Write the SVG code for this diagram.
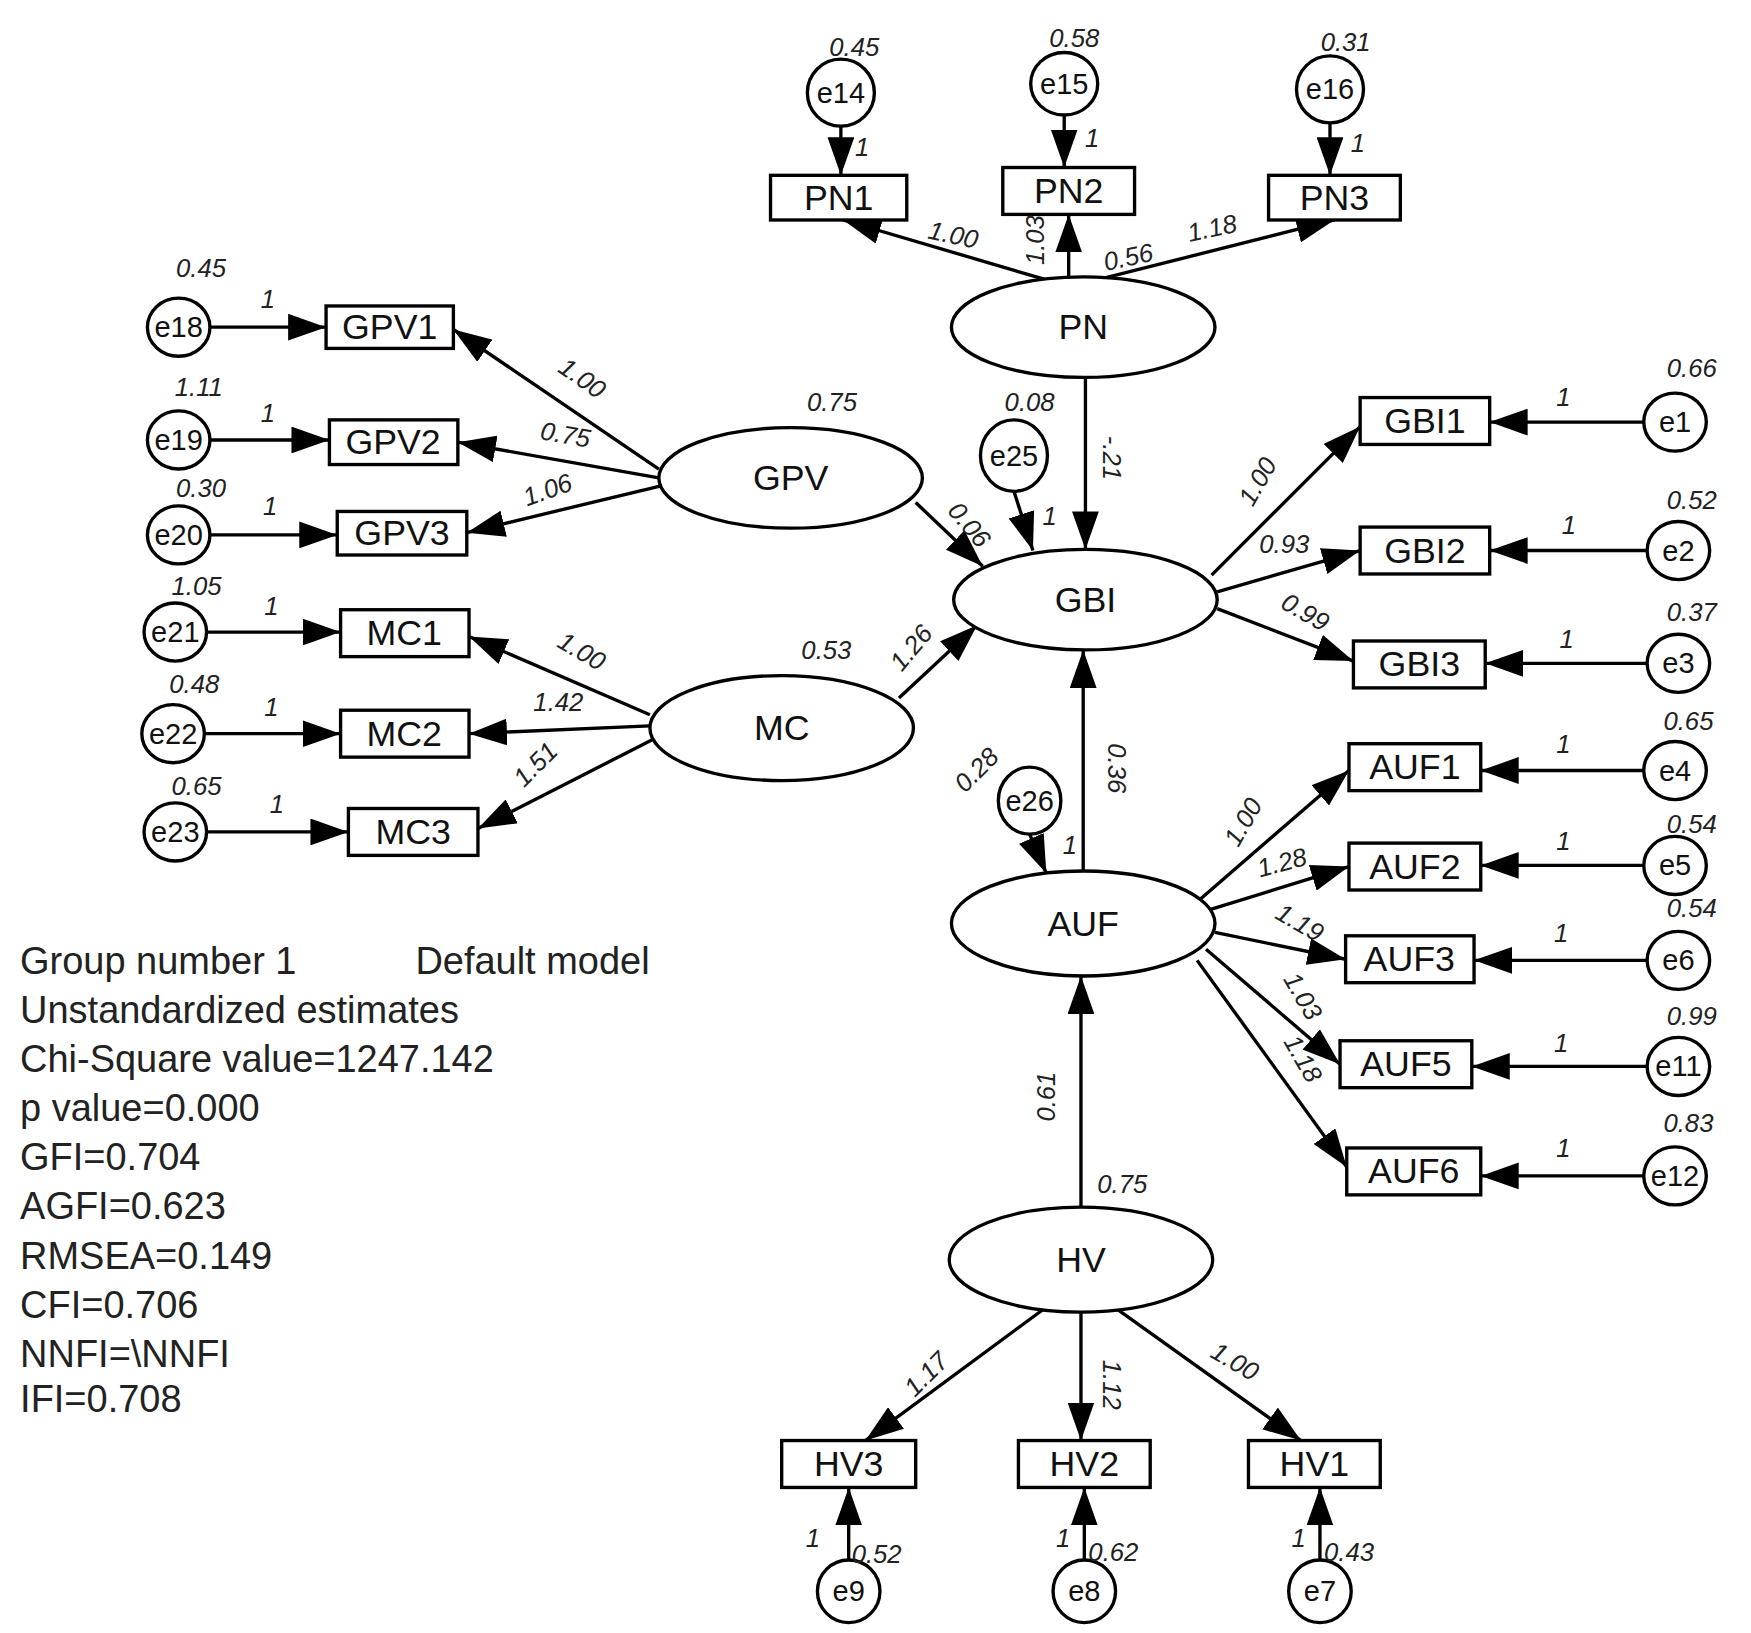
<svg xmlns="http://www.w3.org/2000/svg" width="1751" height="1633" viewBox="0 0 1751 1633">
<style>
.n{fill:#fff;stroke:#000;stroke-width:3}
.t{font-family:"Liberation Sans",Arial,sans-serif;font-size:32px;text-anchor:middle;dominant-baseline:central;fill:#111}
.e{font-family:"Liberation Sans",Arial,sans-serif;font-size:26px;text-anchor:middle;dominant-baseline:central;fill:#111}
.l{font-family:"Liberation Sans",Arial,sans-serif;font-size:23px;font-style:italic;text-anchor:middle;fill:#222}
.c path{stroke:#000;stroke-width:3;fill:none;marker-end:url(#a)}
.s{font-family:"Liberation Sans",Arial,sans-serif;font-size:34px;fill:#222}
</style>
<defs><marker id="a" markerUnits="userSpaceOnUse" markerWidth="36" markerHeight="24" refX="34" refY="12" orient="auto"><path d="M0,0 L34,12 L0,24 Z" fill="#000"/></marker></defs>
<rect width="1751" height="1633" fill="#fff"/>
<g transform="scale(1.1167)">
<g class="c" id="connectors">
<path d="M753,113V157"/><path d="M953,103V150"/><path d="M1191,110V157"/>
<path d="M935,250L755,197"/><path d="M957,248V192"/><path d="M985,250L1195,197"/>
<path d="M972,338V492"/><path d="M908,440L925,493"/>
<path d="M590,420L406,295"/><path d="M590,428L410,396"/><path d="M592,435L418,477"/>
<path d="M820,450L880,507"/>
<path d="M188,293H292"/><path d="M188,394H295"/><path d="M188,479H302"/><path d="M185,566H305"/><path d="M183,657H305"/><path d="M185,745H312"/>
<path d="M582,640L420,570"/><path d="M582,650L420,657"/><path d="M585,662L428,742"/>
<path d="M805,625L875,560"/>
<path d="M1085,515L1218,382"/><path d="M1090,530L1218,493"/><path d="M1090,545L1212,592"/>
<path d="M1472,378H1334"/><path d="M1475,493H1334"/><path d="M1475,594H1330"/>
<path d="M1472,690H1326"/><path d="M1472,775H1326"/><path d="M1475,860H1320"/><path d="M1475,955H1318"/><path d="M1472,1053H1326"/>
<path d="M970,780V582"/><path d="M922,747L937,782"/>
<path d="M1075,805L1208,690"/><path d="M1082,815L1208,776"/><path d="M1088,835L1205,859"/><path d="M1080,850L1200,953"/><path d="M1072,860L1206,1045"/>
<path d="M968,1081V874"/>
<path d="M935,1172L775,1290"/><path d="M968,1175V1290"/><path d="M1000,1172L1165,1290"/>
<path d="M760,1397V1332"/><path d="M971,1397V1332"/><path d="M1182,1397V1332"/>
</g>
<g id="PN"><ellipse class="n" cx="970" cy="293" rx="118" ry="45"/><text class="t" x="970" y="293">PN</text></g>
<g id="GPV"><ellipse class="n" cx="708" cy="428" rx="118" ry="45"/><text class="t" x="708" y="428">GPV</text></g>
<g id="GBI"><ellipse class="n" cx="972" cy="537" rx="118" ry="45"/><text class="t" x="972" y="537">GBI</text></g>
<g id="MC"><ellipse class="n" cx="700" cy="652" rx="118" ry="47"/><text class="t" x="700" y="652">MC</text></g>
<g id="AUF"><ellipse class="n" cx="970" cy="827" rx="118" ry="47"/><text class="t" x="970" y="827">AUF</text></g>
<g id="HV"><ellipse class="n" cx="968" cy="1128" rx="118" ry="47"/><text class="t" x="968" y="1128">HV</text></g>
<g id="PN1"><rect class="n" x="690" y="157" width="122" height="40"/><text class="t" x="751" y="177">PN1</text></g>
<g id="PN2"><rect class="n" x="898" y="150" width="118" height="42"/><text class="t" x="957" y="171">PN2</text></g>
<g id="PN3"><rect class="n" x="1136" y="157" width="118" height="40"/><text class="t" x="1195" y="177">PN3</text></g>
<g id="GPV1"><rect class="n" x="292" y="274" width="114" height="38"/><text class="t" x="349" y="293">GPV1</text></g>
<g id="GPV2"><rect class="n" x="295" y="376" width="115" height="40"/><text class="t" x="352" y="396">GPV2</text></g>
<g id="GPV3"><rect class="n" x="302" y="458" width="116" height="39"/><text class="t" x="360" y="477">GPV3</text></g>
<g id="MC1"><rect class="n" x="305" y="546" width="115" height="42"/><text class="t" x="362" y="567">MC1</text></g>
<g id="MC2"><rect class="n" x="305" y="636" width="115" height="42"/><text class="t" x="362" y="657">MC2</text></g>
<g id="MC3"><rect class="n" x="312" y="724" width="116" height="42"/><text class="t" x="370" y="745">MC3</text></g>
<g id="GBI1"><rect class="n" x="1218" y="356" width="116" height="42"/><text class="t" x="1276" y="377">GBI1</text></g>
<g id="GBI2"><rect class="n" x="1218" y="472" width="116" height="42"/><text class="t" x="1276" y="493">GBI2</text></g>
<g id="GBI3"><rect class="n" x="1212" y="574" width="118" height="42"/><text class="t" x="1271" y="595">GBI3</text></g>
<g id="AUF1"><rect class="n" x="1208" y="666" width="118" height="42"/><text class="t" x="1267" y="687">AUF1</text></g>
<g id="AUF2"><rect class="n" x="1208" y="755" width="118" height="42"/><text class="t" x="1267" y="776">AUF2</text></g>
<g id="AUF3"><rect class="n" x="1205" y="838" width="115" height="42"/><text class="t" x="1262" y="859">AUF3</text></g>
<g id="AUF5"><rect class="n" x="1200" y="932" width="118" height="42"/><text class="t" x="1259" y="953">AUF5</text></g>
<g id="AUF6"><rect class="n" x="1206" y="1028" width="120" height="42"/><text class="t" x="1266" y="1049">AUF6</text></g>
<g id="HV3"><rect class="n" x="700" y="1290" width="120" height="42"/><text class="t" x="760" y="1311">HV3</text></g>
<g id="HV2"><rect class="n" x="912" y="1290" width="118" height="42"/><text class="t" x="971" y="1311">HV2</text></g>
<g id="HV1"><rect class="n" x="1118" y="1290" width="118" height="42"/><text class="t" x="1177" y="1311">HV1</text></g>
<g id="e14"><ellipse class="n" cx="753" cy="83" rx="30" ry="30"/><text class="e" x="753" y="83">e14</text></g>
<g id="e15"><ellipse class="n" cx="953" cy="75" rx="30" ry="28"/><text class="e" x="953" y="75">e15</text></g>
<g id="e16"><ellipse class="n" cx="1191" cy="80" rx="30" ry="30"/><text class="e" x="1191" y="80">e16</text></g>
<g id="e18"><ellipse class="n" cx="160" cy="293" rx="28" ry="26"/><text class="e" x="160" y="293">e18</text></g>
<g id="e19"><ellipse class="n" cx="160" cy="394" rx="28" ry="26"/><text class="e" x="160" y="394">e19</text></g>
<g id="e20"><ellipse class="n" cx="160" cy="479" rx="28" ry="26"/><text class="e" x="160" y="479">e20</text></g>
<g id="e21"><ellipse class="n" cx="157" cy="566" rx="28" ry="26"/><text class="e" x="157" y="566">e21</text></g>
<g id="e22"><ellipse class="n" cx="155" cy="657" rx="28" ry="26"/><text class="e" x="155" y="657">e22</text></g>
<g id="e23"><ellipse class="n" cx="157" cy="745" rx="28" ry="26"/><text class="e" x="157" y="745">e23</text></g>
<g id="e25"><ellipse class="n" cx="908" cy="408" rx="30" ry="32"/><text class="e" x="908" y="408">e25</text></g>
<g id="e26"><ellipse class="n" cx="922" cy="717" rx="28" ry="30"/><text class="e" x="922" y="717">e26</text></g>
<g id="e1"><ellipse class="n" cx="1500" cy="378" rx="28" ry="26"/><text class="e" x="1500" y="378">e1</text></g>
<g id="e2"><ellipse class="n" cx="1503" cy="493" rx="28" ry="26"/><text class="e" x="1503" y="493">e2</text></g>
<g id="e3"><ellipse class="n" cx="1503" cy="594" rx="28" ry="26"/><text class="e" x="1503" y="594">e3</text></g>
<g id="e4"><ellipse class="n" cx="1500" cy="690" rx="28" ry="26"/><text class="e" x="1500" y="690">e4</text></g>
<g id="e5"><ellipse class="n" cx="1500" cy="775" rx="28" ry="26"/><text class="e" x="1500" y="775">e5</text></g>
<g id="e6"><ellipse class="n" cx="1503" cy="860" rx="28" ry="26"/><text class="e" x="1503" y="860">e6</text></g>
<g id="e11"><ellipse class="n" cx="1503" cy="955" rx="28" ry="26"/><text class="e" x="1503" y="955">e11</text></g>
<g id="e12"><ellipse class="n" cx="1500" cy="1053" rx="28" ry="26"/><text class="e" x="1500" y="1053">e12</text></g>
<g id="e9"><ellipse class="n" cx="760" cy="1425" rx="28" ry="28"/><text class="e" x="760" y="1425">e9</text></g>
<g id="e8"><ellipse class="n" cx="971" cy="1425" rx="28" ry="28"/><text class="e" x="971" y="1425">e8</text></g>
<g id="e7"><ellipse class="n" cx="1182" cy="1425" rx="28" ry="28"/><text class="e" x="1182" y="1425">e7</text></g>
<g id="labels">
<text class="l" x="765" y="50">0.45</text><text class="l" x="962" y="42">0.58</text><text class="l" x="1205" y="46">0.31</text>
<text class="l" x="772" y="140">1</text><text class="l" x="978" y="132">1</text><text class="l" x="1216" y="136">1</text>
<text class="l" x="852" y="218" transform="rotate(12 852 218)">1.00</text>
<text class="l" transform="translate(935,215) rotate(-90)">1.03</text>
<text class="l" x="1012" y="238" transform="rotate(-12 1012 238)">0.56</text>
<text class="l" x="1087" y="212" transform="rotate(-12 1087 212)">1.18</text>
<text class="l" x="180" y="248">0.45</text><text class="l" x="240" y="276">1</text>
<text class="l" x="178" y="355">1.11</text><text class="l" x="240" y="378">1</text>
<text class="l" x="180" y="445">0.30</text><text class="l" x="242" y="461">1</text>
<text class="l" x="176" y="533">1.05</text><text class="l" x="243" y="551">1</text>
<text class="l" x="174" y="621">0.48</text><text class="l" x="243" y="641">1</text>
<text class="l" x="176" y="712">0.65</text><text class="l" x="248" y="728">1</text>
<text class="l" x="517" y="345" transform="rotate(35 517 345)">1.00</text>
<text class="l" x="505" y="397" transform="rotate(10 505 397)">0.75</text>
<text class="l" x="493" y="446" transform="rotate(-20 493 446)">1.06</text>
<text class="l" x="745" y="368">0.75</text>
<text class="l" x="862" y="475" transform="rotate(50 862 475)">0.06</text>
<text class="l" x="922" y="368">0.08</text>
<text class="l" x="940" y="470">1</text>
<text class="l" transform="translate(988,410) rotate(90)">-.21</text>
<text class="l" x="1133" y="435" transform="rotate(-60 1133 435)">1.00</text>
<text class="l" x="1150" y="495">0.93</text>
<text class="l" x="1165" y="555" transform="rotate(30 1165 555)">0.99</text>
<text class="l" x="517" y="590" transform="rotate(30 517 590)">1.00</text>
<text class="l" x="500" y="637">1.42</text>
<text class="l" x="485" y="690" transform="rotate(-45 485 690)">1.51</text>
<text class="l" x="740" y="590">0.53</text>
<text class="l" x="822" y="585" transform="rotate(-50 822 585)">1.26</text>
<text class="l" x="1515" y="338">0.66</text><text class="l" x="1400" y="364">1</text>
<text class="l" x="1515" y="456">0.52</text><text class="l" x="1405" y="478">1</text>
<text class="l" x="1515" y="556">0.37</text><text class="l" x="1403" y="580">1</text>
<text class="l" x="1512" y="654">0.65</text><text class="l" x="1400" y="674">1</text>
<text class="l" x="1515" y="746">0.54</text><text class="l" x="1400" y="761">1</text>
<text class="l" x="1515" y="821">0.54</text><text class="l" x="1398" y="844">1</text>
<text class="l" x="1515" y="918">0.99</text><text class="l" x="1398" y="942">1</text>
<text class="l" x="1512" y="1014">0.83</text><text class="l" x="1400" y="1036">1</text>
<text class="l" x="880" y="695" transform="rotate(-45 880 695)">0.28</text>
<text class="l" x="958" y="765">1</text>
<text class="l" transform="translate(992,688) rotate(90)">0.36</text>
<text class="l" x="1120" y="740" transform="rotate(-60 1120 740)">1.00</text>
<text class="l" x="1150" y="780" transform="rotate(-15 1150 780)">1.28</text>
<text class="l" x="1160" y="833" transform="rotate(30 1160 833)">1.19</text>
<text class="l" x="1160" y="896" transform="rotate(60 1160 896)">1.03</text>
<text class="l" x="1160" y="952" transform="rotate(60 1160 952)">1.18</text>
<text class="l" transform="translate(945,982) rotate(-90)">0.61</text>
<text class="l" x="1005" y="1068">0.75</text>
<text class="l" x="835" y="1236" transform="rotate(-45 835 1236)">1.17</text>
<text class="l" transform="translate(988,1240) rotate(90)">1.12</text>
<text class="l" x="1102" y="1226" transform="rotate(30 1102 1226)">1.00</text>
<text class="l" x="728" y="1385">1</text><text class="l" x="785" y="1400">0.52</text>
<text class="l" x="952" y="1385">1</text><text class="l" x="997" y="1398">0.62</text>
<text class="l" x="1163" y="1385">1</text><text class="l" x="1208" y="1398">0.43</text>
</g>
<g id="stats">
<text class="s" x="18" y="872">Group number 1</text><text class="s" x="372" y="872">Default model</text>
<text class="s" x="18" y="916">Unstandardized estimates</text>
<text class="s" x="18" y="960">Chi-Square value=1247.142</text>
<text class="s" x="18" y="1004">p value=0.000</text>
<text class="s" x="18" y="1048">GFI=0.704</text>
<text class="s" x="18" y="1092">AGFI=0.623</text>
<text class="s" x="18" y="1136">RMSEA=0.149</text>
<text class="s" x="18" y="1180">CFI=0.706</text>
<text class="s" x="18" y="1224">NNFI=\NNFI</text>
<text class="s" x="18" y="1264">IFI=0.708</text>
</g>
</g>
</svg>
